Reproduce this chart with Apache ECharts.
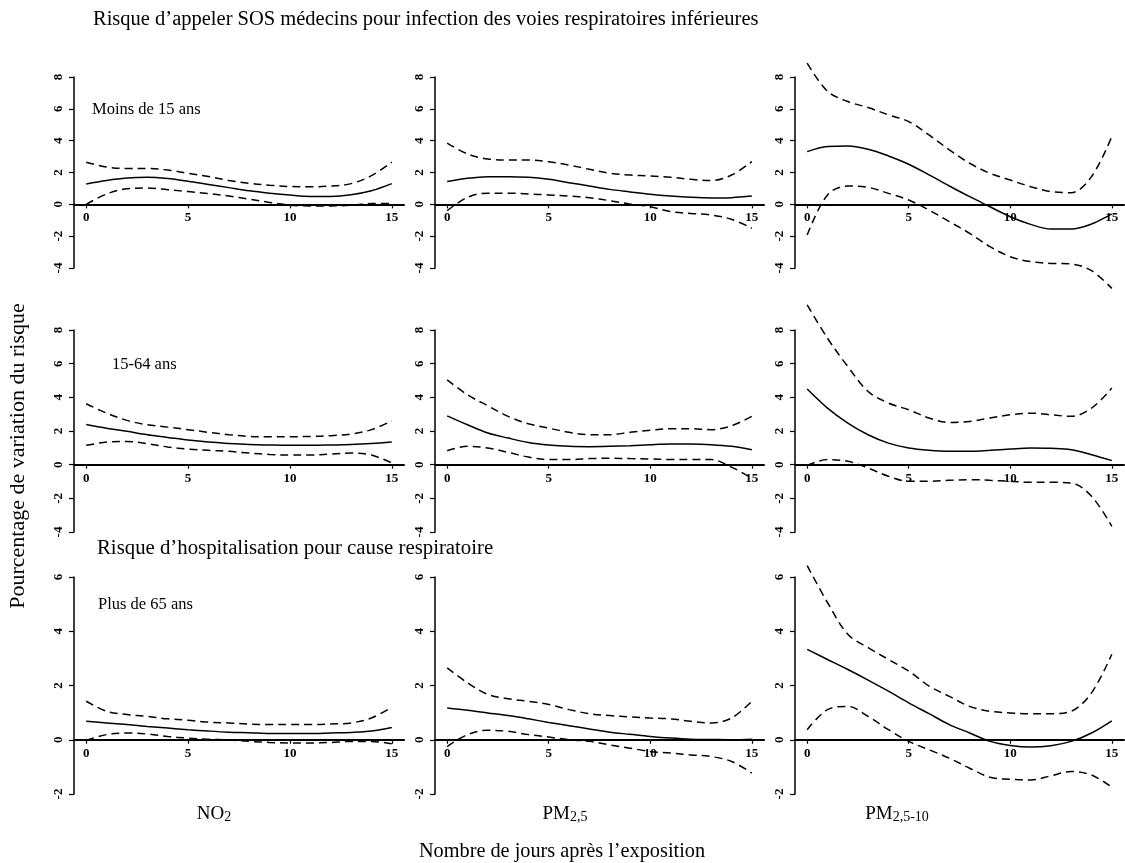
<!DOCTYPE html>
<html>
<head>
<meta charset="utf-8">
<script src="https://cdn.jsdelivr.net/npm/echarts@6/dist/echarts.min.js"></script>
<style>
  html, body { margin: 0; padding: 0; background: #fff; }
  #chart { width: 1125px; height: 863px; }
</style>
</head>
<body>
<div id="chart"></div>
<script>
// Lag days after exposure
const days = [0, 1, 2, 3, 4, 5, 6, 7, 8, 9, 10, 11, 12, 13, 14, 15];
const xTicks = [0, 5, 10, 15];

// SOS médecins calls, under 15 years
const no2_u15_est = [1.28, 1.5, 1.65, 1.7, 1.62, 1.45, 1.25, 1.05, 0.85, 0.7, 0.58, 0.5, 0.5, 0.6, 0.85, 1.3];
const no2_u15_hi  = [2.64, 2.35, 2.25, 2.25, 2.15, 1.95, 1.75, 1.5, 1.32, 1.2, 1.12, 1.1, 1.15, 1.3, 1.8, 2.65];
const no2_u15_lo  = [0.0, 0.65, 0.98, 1.02, 0.92, 0.8, 0.68, 0.52, 0.32, 0.12, -0.05, -0.1, -0.1, -0.05, 0.05, 0.05];

const pm25_u15_est = [1.43, 1.64, 1.74, 1.74, 1.7, 1.57, 1.36, 1.15, 0.94, 0.78, 0.63, 0.52, 0.44, 0.4, 0.42, 0.52];
const pm25_u15_hi  = [3.84, 3.17, 2.85, 2.79, 2.79, 2.68, 2.47, 2.2, 1.95, 1.84, 1.78, 1.7, 1.57, 1.49, 1.84, 2.68];
const pm25_u15_lo  = [-0.4, 0.44, 0.7, 0.7, 0.65, 0.59, 0.52, 0.42, 0.23, 0.02, -0.15, -0.46, -0.57, -0.67, -0.94, -1.5];

const pmc_u15_est = [3.31, 3.63, 3.67, 3.46, 3.04, 2.52, 1.85, 1.15, 0.48, -0.15, -0.78, -1.26, -1.55, -1.55, -1.24, -0.6];
const pmc_u15_hi  = [8.87, 7.1, 6.46, 6.08, 5.62, 5.2, 4.36, 3.42, 2.58, 1.95, 1.53, 1.11, 0.8, 0.73, 1.74, 4.26];
const pmc_u15_lo  = [-1.93, 0.59, 1.15, 1.07, 0.69, 0.27, -0.36, -1.09, -1.82, -2.66, -3.29, -3.6, -3.71, -3.75, -4.17, -5.28];

// SOS médecins calls, 15-64 years
const no2_a15_est = [2.39, 2.17, 1.98, 1.78, 1.62, 1.46, 1.34, 1.26, 1.2, 1.17, 1.15, 1.15, 1.17, 1.2, 1.26, 1.35];
const no2_a15_hi  = [3.62, 3.06, 2.63, 2.37, 2.23, 2.08, 1.92, 1.78, 1.68, 1.66, 1.66, 1.68, 1.72, 1.82, 2.08, 2.6];
const no2_a15_lo  = [1.15, 1.34, 1.38, 1.25, 1.05, 0.93, 0.85, 0.79, 0.69, 0.61, 0.57, 0.57, 0.63, 0.69, 0.57, 0.1];

const pm25_a15_est = [2.9, 2.37, 1.88, 1.58, 1.32, 1.17, 1.09, 1.07, 1.09, 1.13, 1.19, 1.23, 1.23, 1.19, 1.09, 0.89];
const pm25_a15_hi  = [5.04, 4.15, 3.5, 2.87, 2.43, 2.17, 1.92, 1.78, 1.78, 1.92, 2.04, 2.13, 2.13, 2.08, 2.31, 2.87];
const pm25_a15_lo  = [0.83, 1.09, 0.99, 0.73, 0.45, 0.3, 0.3, 0.36, 0.38, 0.36, 0.34, 0.3, 0.3, 0.3, -0.15, -0.8];

const pmc_a15_est = [4.49, 3.36, 2.47, 1.78, 1.28, 0.99, 0.85, 0.79, 0.79, 0.85, 0.93, 0.99, 0.97, 0.89, 0.59, 0.24];
const pmc_a15_hi  = [9.49, 7.51, 5.83, 4.35, 3.66, 3.26, 2.77, 2.51, 2.57, 2.77, 2.96, 3.06, 2.96, 2.87, 3.36, 4.55];
const pmc_a15_lo  = [-0.05, 0.3, 0.2, -0.2, -0.69, -0.99, -0.99, -0.93, -0.89, -0.93, -0.99, -1.05, -1.05, -1.09, -1.88, -3.66];

// Respiratory hospitalisations, over 65 years
const no2_o65_est = [0.68, 0.62, 0.56, 0.49, 0.43, 0.37, 0.32, 0.28, 0.26, 0.23, 0.23, 0.23, 0.25, 0.27, 0.32, 0.45];
const no2_o65_hi  = [1.42, 1.05, 0.93, 0.86, 0.77, 0.72, 0.65, 0.62, 0.58, 0.56, 0.56, 0.56, 0.58, 0.62, 0.8, 1.2];
const no2_o65_lo  = [-0.02, 0.19, 0.25, 0.21, 0.12, 0.06, 0.02, -0.01, -0.06, -0.1, -0.12, -0.12, -0.1, -0.06, -0.06, -0.15];

const pm25_o65_est = [1.17, 1.09, 0.99, 0.89, 0.77, 0.64, 0.52, 0.4, 0.28, 0.2, 0.12, 0.06, 0.02, 0.01, 0.0, 0.02];
const pm25_o65_hi  = [2.65, 2.1, 1.67, 1.51, 1.42, 1.3, 1.11, 0.96, 0.89, 0.84, 0.8, 0.77, 0.68, 0.62, 0.8, 1.42];
const pm25_o65_lo  = [-0.25, 0.19, 0.35, 0.31, 0.19, 0.1, 0.0, -0.06, -0.19, -0.31, -0.43, -0.49, -0.56, -0.62, -0.8, -1.23];

const pmc_o65_est = [3.33, 2.96, 2.59, 2.2, 1.79, 1.36, 0.96, 0.56, 0.25, -0.06, -0.21, -0.27, -0.22, -0.06, 0.25, 0.7];
const pmc_o65_hi  = [6.42, 5.06, 3.89, 3.4, 2.96, 2.53, 1.98, 1.6, 1.23, 1.05, 0.99, 0.96, 0.96, 1.05, 1.73, 3.15];
const pmc_o65_lo  = [0.37, 1.11, 1.23, 0.86, 0.37, -0.06, -0.37, -0.68, -1.05, -1.38, -1.46, -1.48, -1.33, -1.17, -1.3, -1.75];

// Panel layout: columns are pollutants, rows are population groups
const colBoxes = [
  { left: 74, width: 330 },
  { left: 435, width: 329 },
  { left: 795, width: 329 }
];
const rowBoxes = [
  { top: 77, height: 191, min: -4, max: 8 },
  { top: 330, height: 202, min: -4, max: 8 },
  { top: 577, height: 217, min: -2, max: 6 }
];
const panels = [
  [[no2_u15_est, no2_u15_hi, no2_u15_lo], [pm25_u15_est, pm25_u15_hi, pm25_u15_lo], [pmc_u15_est, pmc_u15_hi, pmc_u15_lo]],
  [[no2_a15_est, no2_a15_hi, no2_a15_lo], [pm25_a15_est, pm25_a15_hi, pm25_a15_lo], [pmc_a15_est, pmc_a15_hi, pmc_a15_lo]],
  [[no2_o65_est, no2_o65_hi, no2_o65_lo], [pm25_o65_est, pm25_o65_hi, pm25_o65_lo], [pmc_o65_est, pmc_o65_hi, pmc_o65_lo]]
];

const SERIF = '"Liberation Serif", "DejaVu Serif", serif';
const grids = [], xAxes = [], yAxes = [], series = [];

rowBoxes.forEach((rb, r) => {
  colBoxes.forEach((cb, c) => {
    const idx = grids.length;
    grids.push({ left: cb.left, width: cb.width, top: rb.top, height: rb.height });
    // the day axis sits on the zero line of the panel, labels included
    const zeroLift = rb.height * (0 - rb.min) / (rb.max - rb.min);
    xAxes.push({
      type: 'value', gridIndex: idx, min: -0.6, max: 15.6,
      position: 'bottom', offset: -zeroLift,
      axisLine: { onZero: false, lineStyle: { color: '#000', width: 2 } },
      axisTick: { customValues: xTicks, length: 4, lineStyle: { color: '#000', width: 1.2 } },
      axisLabel: { customValues: xTicks, margin: 7, color: '#000', fontFamily: SERIF,
                   fontWeight: 'bold', fontSize: 13 },
      splitLine: { show: false }
    });
    yAxes.push({
      type: 'value', gridIndex: idx, min: rb.min, max: rb.max, interval: 2,
      axisLine: { show: true, onZero: false, lineStyle: { color: '#000', width: 1.5 } },
      axisTick: { show: true, length: 5, lineStyle: { color: '#000', width: 1.2 } },
      axisLabel: { rotate: 90, margin: 9, color: '#000', fontFamily: SERIF,
                   fontWeight: 'bold', fontSize: 13 },
      splitLine: { show: false }
    });
    const [est, hi, lo] = panels[r][c];
    [[est, 'solid'], [hi, [8, 5]], [lo, [8, 5]]].forEach(([vals, dash]) => {
      series.push({
        type: 'line', xAxisIndex: idx, yAxisIndex: idx,
        data: days.map((d, k) => [d, vals[k]]),
        showSymbol: false, smooth: 0.35, clip: false, silent: true,
        lineStyle: { color: '#000', width: 1.5, type: dash }
      });
    });
  });
});

const txt = (x, y, text, size, extra) => Object.assign({
  type: 'text', x, y,
  style: { text, fill: '#000', font: size + 'px ' + SERIF, textVerticalAlign: 'middle' }
}, extra || {});

const subRich = {
  m: { fontFamily: SERIF, fontSize: 19, lineHeight: 24, verticalAlign: 'bottom' },
  s: { fontFamily: SERIF, fontSize: 14, lineHeight: 16, verticalAlign: 'bottom' }
};

const graphics = [
  txt(93, 20, 'Risque d\u2019appeler SOS médecins pour infection des voies respiratoires inférieures', 20.5),
  txt(97, 549, 'Risque d\u2019hospitalisation pour cause respiratoire', 20.8),
  txt(92, 110, 'Moins de 15 ans', 16.5),
  txt(112, 365, '15-64 ans', 16.5),
  txt(98, 605, 'Plus de 65 ans', 16.5),
  {
    type: 'text', x: 18, y: 456, rotation: Math.PI / 2,
    style: { text: 'Pourcentage de variation du risque', fill: '#000', font: '22px ' + SERIF,
             textAlign: 'center', textVerticalAlign: 'middle' }
  },
  {
    type: 'text', x: 562, y: 852,
    style: { text: 'Nombre de jours après l\u2019exposition', fill: '#000', font: '20.3px ' + SERIF,
             textAlign: 'center', textVerticalAlign: 'middle' }
  },
  // pollutant names with subscripts
  { type: 'text', x: 214, y: 812,
    style: { text: '{m|NO}{s|2}', fill: '#000', textAlign: 'center', textVerticalAlign: 'middle', rich: subRich } },
  { type: 'text', x: 565, y: 812,
    style: { text: '{m|PM}{s|2,5}', fill: '#000', textAlign: 'center', textVerticalAlign: 'middle', rich: subRich } },
  { type: 'text', x: 897, y: 812,
    style: { text: '{m|PM}{s|2,5-10}', fill: '#000', textAlign: 'center', textVerticalAlign: 'middle', rich: subRich } }
];

const chart = echarts.init(document.getElementById('chart'), null, { renderer: 'canvas' });
chart.setOption({
  animation: false,
  backgroundColor: '#fff',
  grid: grids,
  xAxis: xAxes,
  yAxis: yAxes,
  series: series,
  graphic: graphics
});
</script>
</body>
</html>
